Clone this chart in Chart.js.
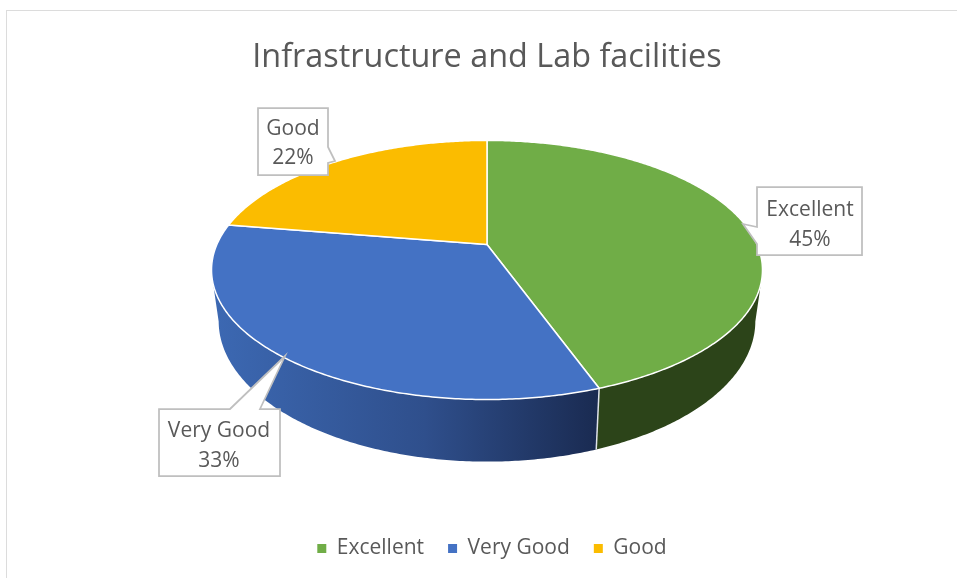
<!DOCTYPE html>
<html>
<head>
<meta charset="utf-8">
<style>
html,body{margin:0;padding:0;background:#fff;width:957px;height:578px;overflow:hidden}
#frame{position:absolute;left:6px;top:10px;width:970px;height:590px;border:1.5px solid #dcdcdc;box-sizing:border-box}
#wrap{position:absolute;left:0;top:0;width:957px;height:578px}
</style>
<script src="https://cdn.jsdelivr.net/npm/chart.js@4"></script>
</head>
<body>
<div id="frame"></div>
<div id="wrap"><canvas id="c" width="957" height="578"></canvas></div>
<script>
const titleText = "Infrastructure and Lab facilities";
const categories = ["Excellent", "Very Good", "Good"];
const values = [45, 33, 22];
const colors = ["#70ad47", "#4472c4", "#fbbc00"];

const FONT = '"Open Sans", sans-serif';
const TEXT = "#595959";
const R0 = 212.5, CY0 = 301;             // radius / centre the layout yields
const TILT = 0.197;                      // perspective of the disc
const TOP = {a: 270, b: 124.5, y: 244};  // top face
const BOT = {a: 263, b: 135,   y: 293};  // bottom rim
const WALL_TOP = 107.5 * Math.PI / 180, WALL_BOT = 101.5 * Math.PI / 180;

// callout shapes: box + pointer, in picture pixels
const callouts = [
  {box:[757,187,862,255], ptr:[[757,227],[743,224],[757,244]], side:"left",  tx:810, ty:[210.5,240.5]},
  {box:[159,409,280,476], ptr:[[230,409],[285,356],[260,409]], side:"top",   tx:219, ty:[431,461]},
  {box:[258,108,328,175], ptr:[[328,147],[335,161],[328,163]], side:"right", tx:293, ty:[129,158]}
];

function warp(t){                         // reference slices sit slightly ahead of nominal angles
  return t - 0.031 * Math.pow(Math.abs(Math.sin(t/2)), 0.25);
}
function pt(g, t, f){
  const u = Math.sin(t), v = -Math.cos(t), w = 1 - TILT * v;
  return [f.x + g.a * f.s * u / w, f.y + (g.y - 244) * f.s + g.b * f.s * v / w];
}
function arcPts(g, a, b, f){
  const out = [], n = Math.max(2, Math.ceil((b - a) / 0.01));
  for (let i = 0; i <= n; i++) out.push(pt(g, a + (b - a) * i / n, f));
  return out;
}

const pie3d = {
  id: "pie3d",
  afterLayout(chart){
    chart.legend.left += 5;
    chart.legend.right += 5;
  },
  beforeDatasetDraw(chart, args){
    const ctx = chart.ctx, els = args.meta.data, el0 = els[0];
    const s = el0.outerRadius / R0;
    const f = {x: el0.x, y: TOP.y + (el0.y - CY0), s};
    const spans = els.map(e => [warp(e.startAngle + Math.PI/2), warp(e.endAngle + Math.PI/2)]);
    ctx.save();
    // side walls
    const grad = ctx.createLinearGradient(f.x - 271*s, 0, f.x + 109*s, 0);
    grad.addColorStop(0, "#3c68b2");
    grad.addColorStop(0.55, "#2f4f8c");
    grad.addColorStop(1, "#1a2b52");
    const wallFill = ["#2c4419", grad, "#9c7500"];
    spans.forEach(([a, b], i) => {
      const ta = Math.max(a, WALL_TOP), tb = Math.min(b, 2*Math.PI - WALL_TOP);
      const ba = Math.max(a, WALL_BOT), bb = Math.min(b, 2*Math.PI - WALL_BOT);
      if (tb <= ta || bb <= ba) return;
      const top = arcPts(TOP, ta, tb, f), bot = arcPts(BOT, ba, bb, f).reverse();
      ctx.beginPath();
      top.concat(bot).forEach((p, k) => k ? ctx.lineTo(p[0], p[1]) : ctx.moveTo(p[0], p[1]));
      ctx.closePath();
      ctx.fillStyle = wallFill[i];
      ctx.fill();
    });
    // seam between the two visible walls
    const seam = spans[0][1];
    const p1 = pt(TOP, seam, f), p2 = pt(BOT, seam, f);
    ctx.strokeStyle = "#dfe3ea"; ctx.lineWidth = 1.5;
    ctx.beginPath(); ctx.moveTo(p1[0], p1[1]); ctx.lineTo(p2[0], p2[1]); ctx.stroke();
    // top faces
    const apex = [f.x, f.y];
    spans.forEach(([a, b], i) => {
      ctx.beginPath();
      ctx.moveTo(apex[0], apex[1]);
      arcPts(TOP, a, b, f).forEach(p => ctx.lineTo(p[0], p[1]));
      ctx.closePath();
      ctx.fillStyle = colors[i];
      ctx.fill();
      ctx.strokeStyle = "#ffffff";
      ctx.lineWidth = 1.5;
      ctx.lineJoin = "round";
      ctx.stroke();
    });
    ctx.restore();
    return false;
  },
  afterDraw(chart){
    const ctx = chart.ctx, total = values.reduce((p, c) => p + c, 0);
    ctx.save();
    callouts.forEach((c, i) => {
      const [x0, y0, x1, y1] = c.box, [a, t, b] = c.ptr;
      ctx.beginPath();
      ctx.moveTo(x0, y0);
      if (c.side === "top")  { ctx.lineTo(a[0], a[1]); ctx.lineTo(t[0], t[1]); ctx.lineTo(b[0], b[1]); }
      ctx.lineTo(x1, y0);
      if (c.side === "right"){ ctx.lineTo(a[0], a[1]); ctx.lineTo(t[0], t[1]); ctx.lineTo(b[0], b[1]); }
      ctx.lineTo(x1, y1);
      ctx.lineTo(x0, y1);
      if (c.side === "left") { ctx.lineTo(b[0], b[1]); ctx.lineTo(t[0], t[1]); ctx.lineTo(a[0], a[1]); }
      ctx.closePath();
      ctx.fillStyle = "#ffffff"; ctx.fill();
      ctx.strokeStyle = "#bfbfbf"; ctx.lineWidth = 1.75; ctx.stroke();
      ctx.fillStyle = TEXT;
      ctx.font = "21px " + FONT;
      ctx.textAlign = "center"; ctx.textBaseline = "middle";
      ctx.fillText(categories[i], c.tx, c.ty[0]);
      ctx.fillText(Math.round(values[i] / total * 100) + "%", c.tx, c.ty[1]);
    });
    ctx.restore();
  }
};

new Chart(document.getElementById("c"), {
  type: "pie",
  data: {labels: categories, datasets: [{data: values, backgroundColor: colors, borderWidth: 0}]},
  plugins: [pie3d],
  options: {
    responsive: false,
    animation: false,
    layout: {padding: {left: 17, right: 0, top: 0, bottom: 9}},
    plugins: {
      tooltip: {enabled: false},
      title: {
        display: true, text: titleText, color: TEXT,
        font: {family: FONT, size: 32.4, weight: "normal"},
        padding: {top: 38, bottom: 12}
      },
      legend: {
        position: "bottom",
        labels: {
          color: TEXT, boxWidth: 9, boxHeight: 9, padding: 24,
          font: {family: FONT, size: 21}
        }
      }
    }
  }
});
</script>
</body>
</html>
